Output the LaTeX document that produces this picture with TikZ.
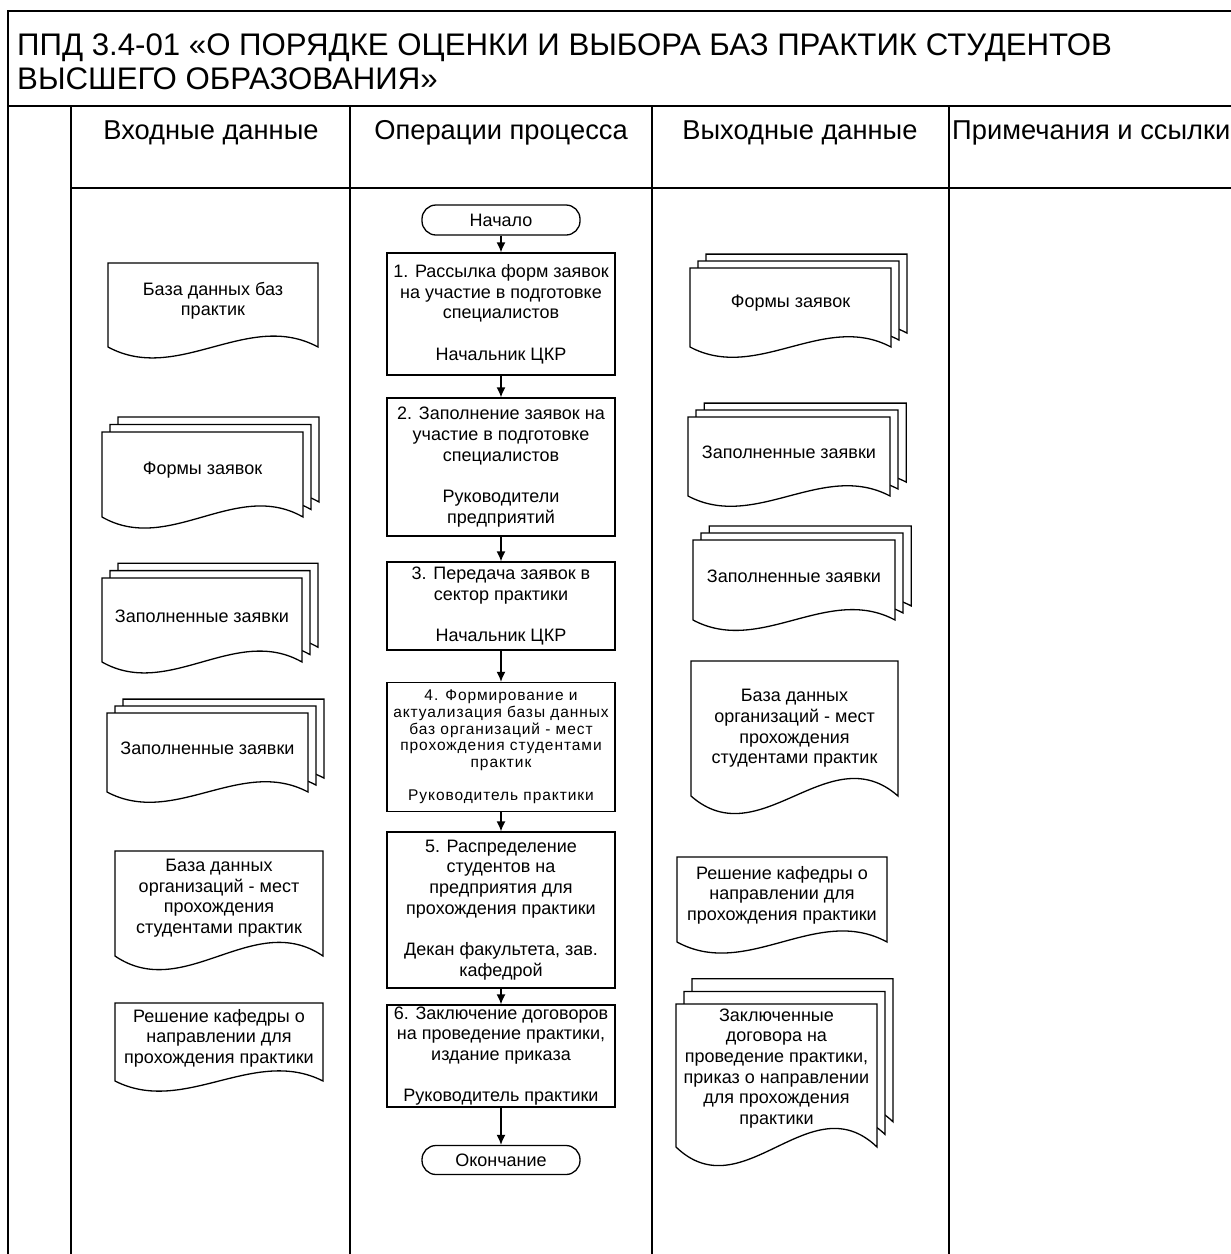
\documentclass[tikz,border=0pt]{standalone}
\usepackage{fontspec}
\setmainfont{Liberation Sans}
\usetikzlibrary{arrows.meta}

\newcommand{\boxfont}{\fontsize{18}{20.7}\selectfont}
\newcommand{\smallboxfont}{\fontsize{15.5}{16.6}\selectfont\addfontfeatures{LetterSpace=6}}
\newcommand{\headfont}{\fontsize{27.3}{32}\selectfont}
\newcommand{\titlefont}{\fontsize{31.2}{35}\selectfont}

% one sheet of a document shape: left, top, width, height
\newcommand{\docsheet}[4]{%
  \filldraw[docline] (#1,#2) -- ++(#3,0) -- ++(0,#4)
    .. controls ({#1+2*#3/3},{#2+0.55*#4}) and ({#1+#3/3},{#2+1.45*#4}) .. (#1,{#2+#4}) -- cycle;}
\newcommand{\singledoc}[7][0.45]{%
  \docsheet{#3}{#4}{#5}{#6}
  \node[doctext] (#2) at ({#3+#5/2},{#4+#1*#6}) {#7};}
\newcommand{\stackdoc}[6]{%
  \docsheet{#2+0.08*#4}{#3-0.176*#5}{#4}{#5}
  \docsheet{#2+0.04*#4}{#3-0.088*#5}{#4}{#5}
  \docsheet{#2}{#3}{#4}{#5}
  \node[doctext] (#1) at ({#2+#4/2},{#3+0.45*#5}) {#6};}

\begin{document}
\begin{tikzpicture}[x=1pt,y=-1pt,
    frameline/.style={line width=1.6pt},
    bandline/.style={line width=2.6pt},
    docline/.style={line width=1.3pt, fill=white},
    doctext/.style={align=center, font=\boxfont, inner sep=0pt},
    procbox/.style={draw, line width=1.3pt, minimum width=228pt, align=center,
      inner sep=1pt, font=\boxfont},
    termbox/.style={draw, line width=1.3pt, rounded corners=14pt, minimum width=158pt,
      minimum height=30pt, inner sep=1pt, font=\boxfont},
    flowline/.style={line width=1.3pt},
    headtext/.style={font=\headfont, inner sep=0pt},
    titletext/.style={font=\titlefont, inner sep=0pt}]
  \tikzset{>={Latex[length=10pt,width=9pt]}}
  \useasboundingbox (0,0) rectangle (1231,1254);

  % frame
  \draw[frameline] (1231,11) -- (8,11) -- (8,1254);
  \draw[bandline] (8,106) -- (1231,106);
  \draw[frameline] (71,188) -- (1231,188);
  \foreach \x in {71,350,652,949} {
    \draw[frameline] (\x,106) -- (\x,1254);
  }

  % title and column heads
  \node[titletext, anchor=base west] (titleA) at (17,55) {ППД 3.4-01 «О ПОРЯДКЕ ОЦЕНКИ И ВЫБОРА БАЗ ПРАКТИК СТУДЕНТОВ};
  \node[titletext, anchor=base west] (titleB) at (17,89) {ВЫСШЕГО ОБРАЗОВАНИЯ»};
  \node[headtext, anchor=base] (headIn) at (211,139) {Входные данные};
  \node[headtext, anchor=base] (headOps) at (501,139) {Операции процесса};
  \node[headtext, anchor=base] (headOut) at (800,139) {Выходные данные};
  \node[headtext, anchor=base west] (headNotes) at (952,139) {Примечания и ссылки};

  % input documents
  \singledoc{inBase}{108}{263}{210}{84}{База данных баз\\практик}
  \stackdoc{inForms}{102}{432}{201}{85}{Формы заявок}
  \stackdoc{inFilledA}{102}{578}{200}{84}{Заполненные заявки}
  \stackdoc{inFilledB}{107}{713}{201}{79}{Заполненные заявки}
  \singledoc{inOrgBase}{115}{851}{208}{105}{База данных\\организаций - мест\\прохождения\\студентами практик}
  \singledoc{inDecision}{115}{1003}{208}{78}{Решение кафедры о\\направлении для\\прохождения практики}

  % process operations
  \node[termbox] (start) at (501,220) {Начало};
  \node[procbox, minimum height=122pt] (op1) at (501,314)
    {1. Рассылка форм заявок\\на участие в подготовке\\специалистов\\[20.7pt]Начальник ЦКР};
  \node[procbox, minimum height=138pt] (op2) at (501,467)
    {2. Заполнение заявок на\\участие в подготовке\\специалистов\\[20.7pt]Руководители\\предприятий};
  \node[procbox, minimum height=88pt] (op3) at (501,606)
    {3. Передача заявок в\\сектор практики\\[20.7pt]Начальник ЦКР};
  \node[procbox, minimum height=129pt, font=\smallboxfont] (op4) at (501,747)
    {4. Формирование и\\актуализация базы данных\\баз организаций - мест\\прохождения студентами\\практик\\[16.6pt]Руководитель практики};
  \node[procbox, minimum height=156pt] (op5) at (501,910)
    {5. Распределение\\студентов на\\предприятия для\\прохождения практики\\[20.7pt]Декан факультета, зав.\\кафедрой};
  \node[procbox, minimum height=102pt] (op6) at (501,1056)
    {6. Заключение договоров\\на проведение практики,\\издание приказа\\[20.7pt]Руководитель практики};
  \node[termbox, minimum height=29pt] (finish) at (501,1160) {Окончание};

  \draw[->, flowline] (start) -- (op1);
  \foreach \a/\b in {op1/op2,op2/op3,op3/op4,op4/op5,op5/op6,op6/finish} {
    \draw[->, flowline] (\a) -- (\b);
  }

  % output documents
  \stackdoc{outForms}{690}{268}{201}{79}{Формы заявок}
  \stackdoc{outFilledA}{688}{417}{202}{79}{Заполненные заявки}
  \stackdoc{outFilledB}{693}{540}{202}{80}{Заполненные заявки}
  \singledoc[0.5]{outOrgBase}{691}{661}{207}{135}{База данных\\организаций - мест\\прохождения\\студентами практик}
  \singledoc{outDecision}{677}{857}{210}{85}{Решение кафедры о\\направлении для\\прохождения практики}
  \stackdoc{outContracts}{676}{1004}{201}{143}{Заключенные\\договора на\\проведение практики,\\приказ о направлении\\для прохождения\\практики}
\end{tikzpicture}
\end{document}
